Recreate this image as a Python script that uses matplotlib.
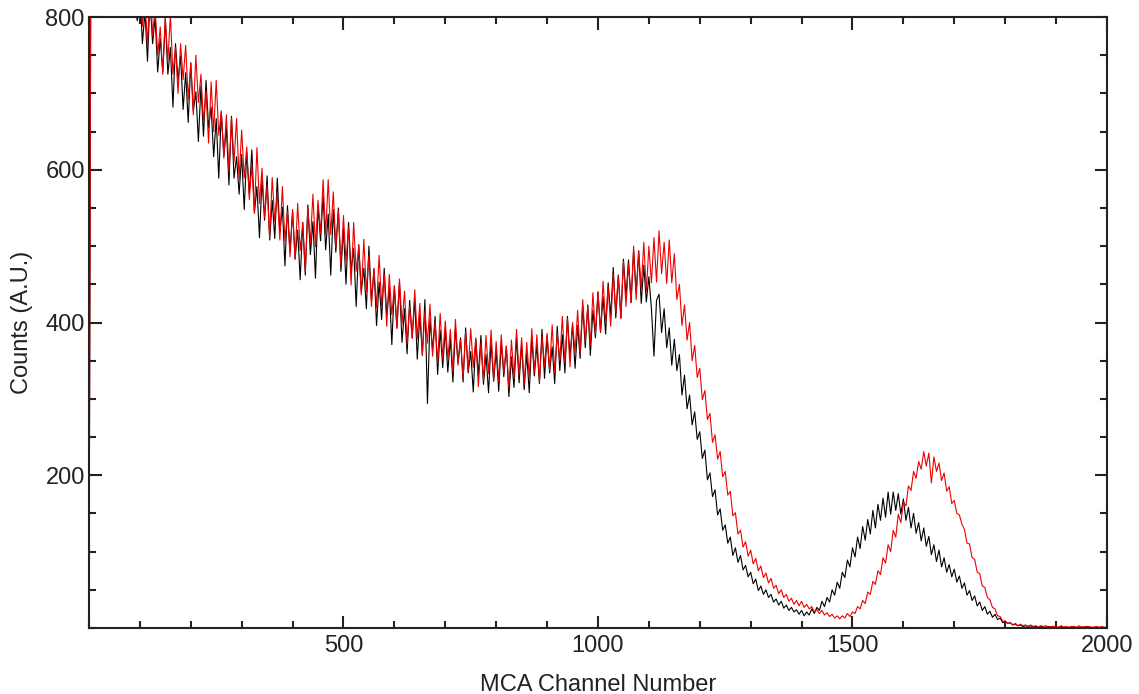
import numpy as np
import matplotlib.pyplot as plt
from matplotlib.ticker import MultipleLocator

plt.rcParams['font.family'] = ['Liberation Sans', 'DejaVu Sans']

# ------------------------------
# Spectrum data (one value every 5 channels)
# ------------------------------
channels = np.arange(0, 2001, 5)

black_counts = [
    0, 1190, 1135, 1098, 1062, 1025, 1004, 972, 955, 930, 915, 893, 884, 861, 858, 836, 832, 812, 815, 795,
    835, 765, 807, 742, 825, 765, 800, 728, 772, 728, 797, 725, 760, 682, 765, 717, 749, 679, 727, 662,
    740, 677, 702, 637, 710, 644, 717, 655, 682, 617, 667, 589, 676, 618, 655, 580, 670, 589, 617, 568,
    620, 548, 623, 568, 626, 543, 578, 511, 588, 534, 592, 508, 560, 510, 589, 518, 551, 474, 553, 492,
    545, 483, 521, 456, 531, 462, 554, 489, 532, 458, 553, 507, 567, 495, 542, 462, 548, 492, 550, 467,
    523, 450, 531, 467, 497, 421, 502, 440, 471, 418, 500, 428, 470, 396, 453, 404, 471, 409, 446, 371,
    448, 393, 452, 374, 418, 359, 429, 380, 430, 352, 410, 357, 430, 294, 405, 363, 408, 332, 390, 341,
    392, 335, 379, 322, 393, 347, 380, 322, 393, 334, 362, 309, 378, 331, 383, 319, 358, 308, 375, 323,
    363, 310, 374, 329, 369, 303, 355, 315, 381, 321, 371, 312, 360, 308, 380, 330, 371, 320, 391, 327,
    382, 334, 368, 320, 395, 337, 384, 334, 408, 355, 397, 340, 396, 353, 423, 367, 423, 357, 416, 380,
    440, 387, 434, 385, 452, 408, 472, 406, 462, 406, 483, 435, 482, 426, 494, 438, 494, 425, 475, 427,
    460, 418, 356, 429, 437, 387, 418, 367, 393, 344, 378, 337, 358, 305, 331, 287, 305, 266, 283, 247,
    257, 222, 233, 194, 203, 172, 181, 148, 156, 128, 135, 111, 119, 95, 105, 86, 95, 76, 82, 67,
    73, 58, 64, 49, 55, 44, 50, 40, 44, 34, 38, 30, 35, 26, 30, 23, 27, 21, 24, 18,
    23, 16, 21, 17, 25, 19, 27, 23, 35, 28, 40, 34, 50, 43, 60, 52, 73, 66, 89, 80,
    105, 93, 119, 104, 133, 115, 142, 123, 154, 131, 162, 141, 170, 145, 178, 149, 178, 154, 176, 149,
    169, 141, 158, 131, 150, 124, 138, 114, 131, 107, 120, 96, 109, 87, 102, 80, 92, 73, 83, 67,
    77, 60, 68, 52, 59, 43, 49, 36, 42, 29, 34, 23, 28, 18, 22, 14, 18, 11, 13, 7,
    9, 6, 7, 4, 5, 3, 4, 2, 3, 2, 3, 1, 2, 1, 2, 1, 1, 2, 1, 1,
    1, 0, 2, 1, 1, 0, 1, 2, 0, 1, 1, 0, 2, 1, 0, 1, 1, 0, 1, 0,
    0,
]

red_counts = [
    0, 1240, 1180, 1140, 1098, 1065, 1032, 1010, 980, 962, 941, 925, 908, 890, 878, 862, 850, 838, 828, 818,
    857, 788, 823, 762, 850, 775, 813, 750, 787, 725, 800, 742, 803, 725, 760, 700, 765, 718, 763, 692,
    740, 672, 750, 688, 725, 662, 703, 635, 715, 650, 717, 645, 677, 615, 672, 597, 668, 610, 667, 587,
    652, 589, 630, 561, 606, 544, 629, 556, 602, 537, 580, 511, 590, 533, 569, 508, 578, 507, 546, 486,
    548, 483, 556, 494, 531, 467, 550, 504, 568, 499, 560, 516, 587, 515, 587, 515, 571, 498, 547, 474,
    540, 480, 525, 449, 531, 467, 500, 436, 509, 440, 488, 421, 471, 419, 488, 422, 463, 395, 463, 410,
    447, 392, 457, 398, 441, 372, 422, 379, 443, 378, 425, 358, 415, 373, 424, 356, 401, 347, 412, 352,
    402, 352, 391, 335, 404, 344, 378, 327, 388, 337, 392, 341, 380, 316, 373, 324, 383, 333, 390, 325,
    375, 322, 384, 334, 369, 314, 377, 327, 391, 331, 380, 319, 374, 328, 392, 335, 384, 322, 382, 343,
    386, 338, 397, 334, 386, 350, 408, 347, 405, 342, 400, 361, 416, 359, 430, 375, 422, 370, 439, 385,
    440, 388, 454, 399, 447, 395, 463, 413, 462, 405, 480, 421, 477, 426, 500, 430, 493, 444, 505, 440,
    500, 452, 511, 453, 520, 464, 505, 451, 508, 452, 490, 430, 450, 396, 423, 377, 400, 350, 370, 328,
    340, 299, 311, 273, 281, 243, 253, 221, 231, 198, 205, 174, 179, 147, 151, 123, 128, 106, 113, 94,
    102, 84, 91, 75, 81, 66, 72, 59, 65, 52, 56, 45, 50, 40, 44, 35, 39, 31, 36, 29,
    35, 27, 31, 25, 28, 21, 24, 19, 23, 17, 20, 15, 18, 13, 16, 12, 16, 13, 19, 15,
    21, 19, 28, 25, 36, 32, 47, 44, 61, 57, 75, 70, 92, 85, 109, 100, 128, 119, 149, 138,
    165, 160, 186, 180, 205, 196, 218, 208, 231, 212, 229, 190, 224, 205, 216, 193, 203, 179, 185, 163,
    167, 150, 148, 136, 129, 111, 110, 92, 90, 73, 71, 55, 53, 40, 37, 27, 25, 16, 15, 9,
    9, 6, 7, 4, 6, 3, 5, 3, 4, 2, 4, 2, 3, 1, 3, 2, 3, 1, 2, 2,
    2, 1, 3, 1, 2, 1, 2, 2, 1, 3, 1, 2, 1, 2, 1, 1, 2, 1, 2, 1,
    1,
]

x_major = [500, 1000, 1500, 2000]
y_major = [200, 400, 600, 800]

# ------------------------------
# Plot
# ------------------------------
fig = plt.figure(figsize=(11.39, 6.94), dpi=100)
ax = fig.add_axes([0.0781, 0.0951, 0.8938, 0.8804])

ax.plot(channels, black_counts, color="black", lw=0.8)
ax.plot(channels, red_counts, color="#ee0000", lw=0.8)

ax.set_xlim(0, 2000)
ax.set_ylim(0, 800)
ax.set_xticks(x_major)
ax.set_yticks(y_major)
ax.xaxis.set_minor_locator(MultipleLocator(100))
ax.yaxis.set_minor_locator(MultipleLocator(50))

ax.tick_params(which="both", direction="in", top=True, right=True,
               color="#222222", width=1.5, labelsize=17, labelcolor="#222222")
ax.tick_params(which="major", length=9, pad=5)
ax.tick_params(which="minor", length=5)
ax.tick_params(axis="y", which="major", pad=3)

for s in ax.spines.values():
    s.set_linewidth(1.5)
    s.set_color("#222222")

ax.set_xlabel("MCA Channel Number", fontsize=17, color="#222222", labelpad=12)
ax.set_ylabel("Counts (A.U.)", fontsize=17, color="#222222")
ax.yaxis.set_label_coords(-0.055, 0.5)

plt.savefig("out.png", dpi=100)
plt.close()
